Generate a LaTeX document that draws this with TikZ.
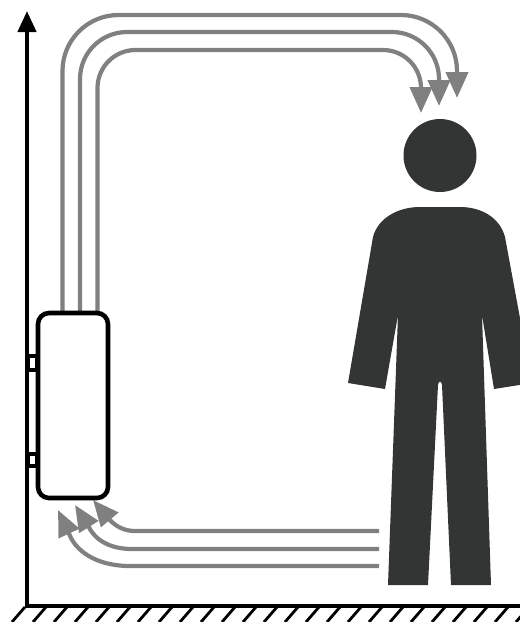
\documentclass[tikz,border=0pt]{standalone}
\usetikzlibrary{arrows.meta,bending}
\definecolor{flow}{HTML}{808080}
\definecolor{body}{HTML}{333535}
\tikzset{
  flowline/.style={draw=flow,line width=4.2pt,-{Triangle[length=26pt,width=22pt,flex=1]}},
  wall/.style={draw=black,line width=4.2pt},
  hatchline/.style={draw=black,line width=2.8pt},
  bracket/.style={draw=black,line width=4.2pt,fill=white},
  unit/.style={draw=black,line width=4.6pt,fill=white,rounded corners=11pt,minimum width=70pt,minimum height=185pt,inner sep=0pt},
  person/.style={fill=body,draw=none}
}
\begin{document}
\begin{tikzpicture}[x=1pt,y=-1pt]
\useasboundingbox (0,0) rectangle (520,622);
\clip (0,0) rectangle (520,622);
% hatching
\foreach \k in {0,...,24} {
  \draw[hatchline] ({25+21*\k},607) -- ({12+21*\k},622);
}
% wall and floor
\coordinate (origin) at (27,606);
\coordinate (top) at (27,11);
\coordinate (floorend) at (520,606);
\draw[wall,line cap=rect] (origin) -- (floorend);
\draw[wall,-{Triangle[length=21pt,width=18pt,flex=1]}] (origin) -- (top);
% brackets
\draw[bracket] (28,356) rectangle (37,370);
\draw[bracket] (28,454) rectangle (37,466);
% upper flows
\coordinate (a1) at (62.5,313);
\coordinate (a2) at (80,313);
\coordinate (a3) at (97.5,313);
\coordinate (t1) at (457,98);
\coordinate (t2) at (439,106);
\coordinate (t3) at (421,113);
\draw[flowline,rounded corners=56pt] (a1) -- (62.5,15) -- (457,15) -- (t1);
\draw[flowline,rounded corners=47pt] (a2) -- (80,32) -- (439,32) -- (t2);
\draw[flowline,rounded corners=38pt] (a3) -- (97.5,50) -- (421,50) -- (t3);
% lower flows
\coordinate (b1) at (379,566);
\coordinate (b2) at (379,549);
\coordinate (b3) at (379,531);
\coordinate (u1) at (58,510);
\coordinate (u2) at (75,505);
\coordinate (u3) at (93,500);
\draw[flowline] (b1) -- (130,566) .. controls (95,566) and (75,550) .. (69,533.5) -- (u1);
\draw[flowline] (b2) -- (132,549) .. controls (110,549) and (95,540) .. (88.5,526.5) -- (u2);
\draw[flowline] (b3) -- (135,531) .. controls (125,531) and (116,527) .. (109,519) -- (u3);
% unit
\node[unit] (unitbox) at (73,405.5) {};
% person
\fill[person] (440,155.5) circle (36.5);
\fill[person]
  (420,207) -- (460,207)
  .. controls (482,207) and (500,218) .. (505,237)
  -- (532,383) -- (494,389) -- (482,315)
  -- (491,585) -- (451,585) -- (442,385)
  .. controls (441.5,380.5) and (438.5,380.5) .. (438,385)
  -- (428,585) -- (388,585) -- (398,315)
  -- (385,389) -- (348,383) -- (373,237)
  .. controls (378,218) and (398,207) .. (420,207) -- cycle;
\end{tikzpicture}
\end{document}
